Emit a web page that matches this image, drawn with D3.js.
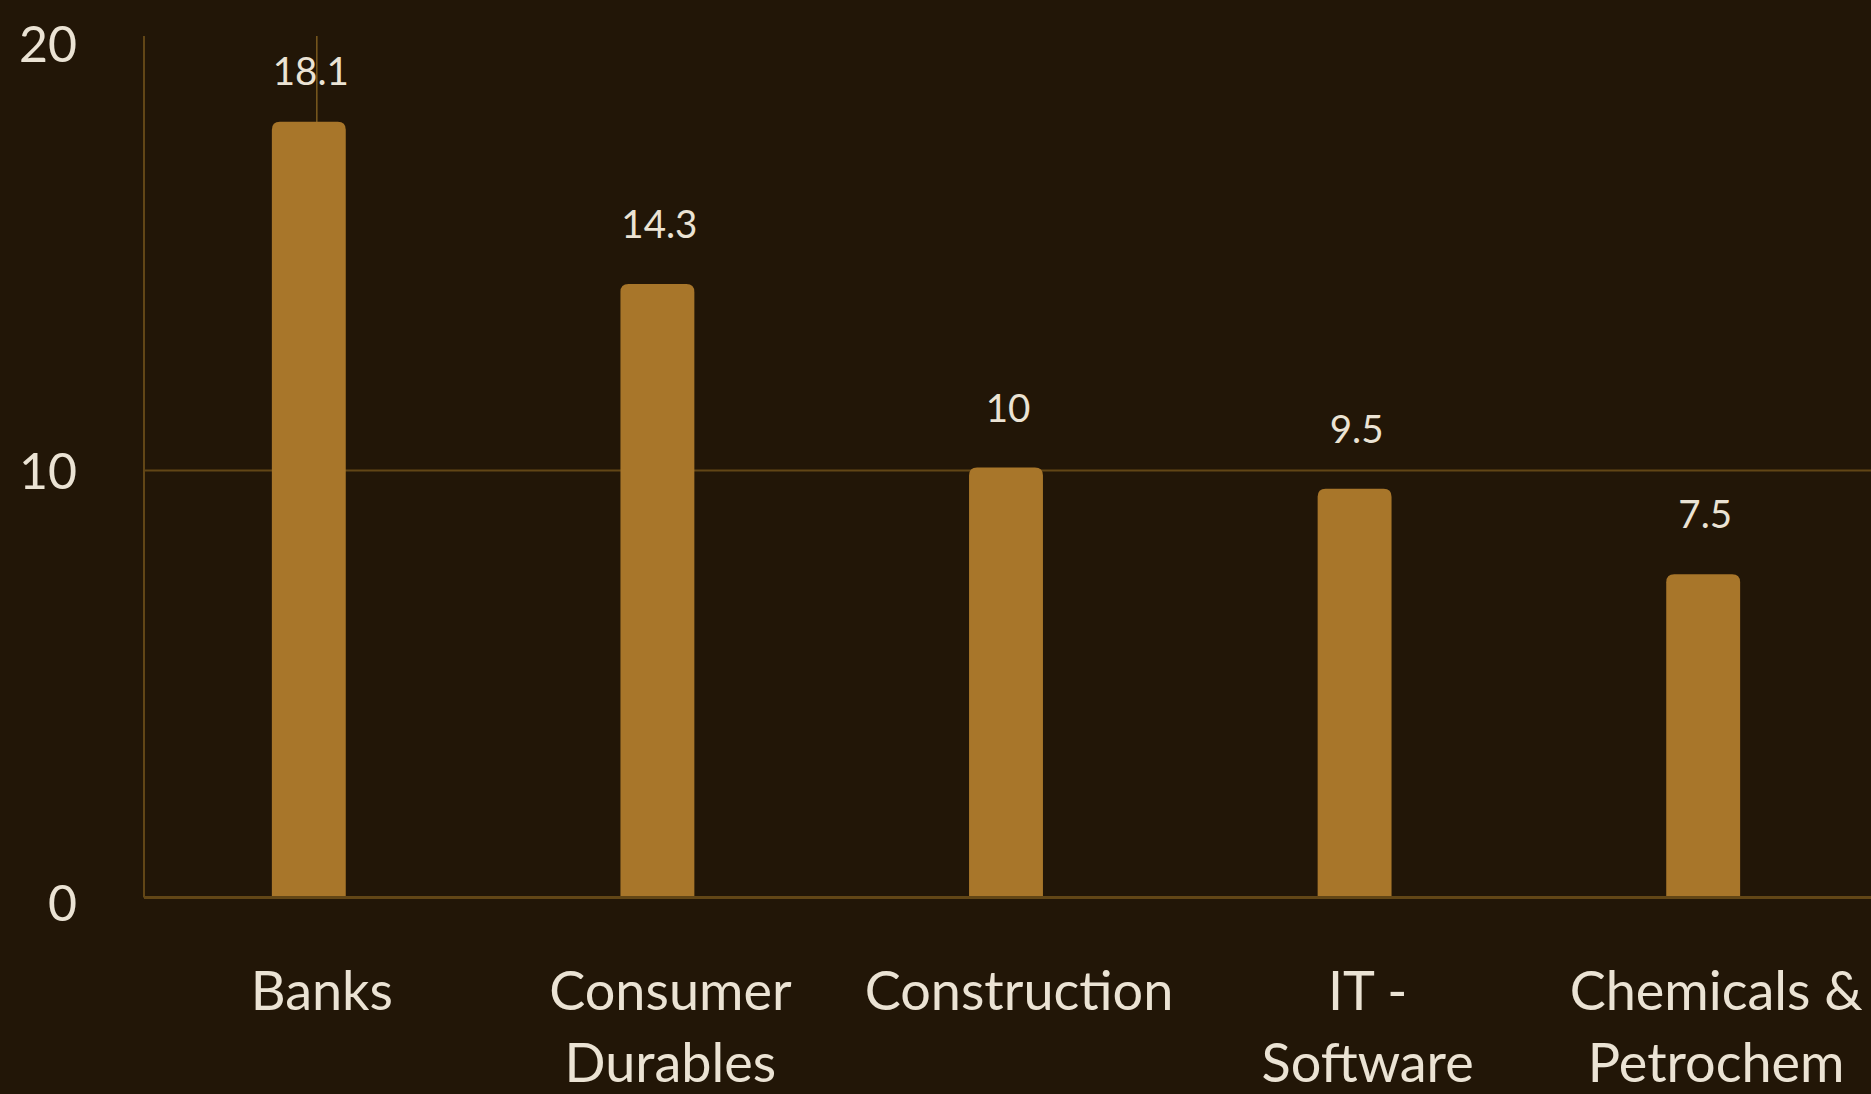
<!DOCTYPE html>
<html>
<head>
<meta charset="utf-8">
<script src="https://cdn.jsdelivr.net/npm/d3@7"></script>
<style>
  html, body { margin: 0; padding: 0; background: #221607; overflow: hidden; }
  svg { display: block; }
  text { font-family: Lato, "Noto Sans", sans-serif; fill: #ebe3d4; }
</style>
</head>
<body>
<svg id="chart" width="1871" height="1094"></svg>
<script>
const categories = [["Banks"], ["Consumer", "Durables"], ["Construction"], ["IT -", "Software"], ["Chemicals &", "Petrochem"]];
const values = [18.1, 14.3, 10, 9.5, 7.5];
const yTicks = [0, 10, 20];

(function () {
const W = 1871, H = 1094;
const svg = d3.select("#chart");
svg.append("rect").attr("width", W).attr("height", H).attr("fill", "#221607");

const axisX = 144, plotTop = 36, plotBottom = 897.5;
const keys = categories.map(c => c.join(" "));
const x = d3.scaleBand().domain(keys).range([138, 1874]).paddingInner(0.788).paddingOuter(0.384);
const y = d3.scaleLinear().domain([0, 20]).range([plotBottom, 43.5]);

const gridColor = "#624616";

// horizontal gridlines
svg.append("g").selectAll("line").data(yTicks.filter(t => t > 0 && t < 20)).join("line")
  .attr("x1", axisX).attr("x2", W).attr("y1", d => y(d)).attr("y2", d => y(d))
  .attr("stroke", gridColor).attr("stroke-width", 2);

// y axis line
svg.append("line").attr("x1", axisX).attr("x2", axisX).attr("y1", plotTop).attr("y2", plotBottom)
  .attr("stroke", gridColor).attr("stroke-width", 2);

// vertical line at first category
const vx = x(keys[0]) + x.bandwidth() / 2 + 8;
svg.append("line")
  .attr("x1", vx).attr("x2", vx)
  .attr("y1", plotTop).attr("y2", plotBottom)
  .attr("stroke", "#7a5a1e").attr("stroke-width", 1.5);

// bars
const r = 8;
svg.append("g").selectAll("path").data(values).join("path")
  .attr("fill", "#a8762a")
  .attr("d", (d, i) => {
    const x0 = x(keys[i]), w = x.bandwidth(), y0 = y(d) - 3, y1 = y(0);
    return `M${x0},${y1} L${x0},${y0 + r} Q${x0},${y0} ${x0 + r},${y0} L${x0 + w - r},${y0} Q${x0 + w},${y0} ${x0 + w},${y0 + r} L${x0 + w},${y1} Z`;
  });

// baseline
svg.append("line").attr("x1", axisX).attr("x2", W).attr("y1", y(0)).attr("y2", y(0))
  .attr("stroke", gridColor).attr("stroke-width", 3);

// value labels (kept inside the plot area at the top)
svg.append("g").selectAll("text").data(values).join("text")
  .attr("x", (d, i) => x(keys[i]) + x.bandwidth() / 2 + 2)
  .attr("y", d => Math.max(y(d) - 49, 85))
  .attr("text-anchor", "middle")
  .attr("font-size", 38.5)
  .text(d => d);

// y tick labels
svg.append("g").selectAll("text").data(yTicks).join("text")
  .attr("x", 77)
  .attr("y", d => y(d) + (d === 0 ? 4 : -1))
  .attr("text-anchor", "end")
  .attr("dominant-baseline", "central")
  .attr("font-size", 50)
  .text(d => d);

// x labels
const xl = svg.append("g").selectAll("text").data(categories).join("text")
  .attr("x", (d, i) => x(keys[i]) + x.bandwidth() / 2 + 13)
  .attr("y", 1010)
  .attr("text-anchor", "middle")
  .attr("font-size", 54);
xl.selectAll("tspan").data(d => d).join("tspan")
  .attr("x", function () { return d3.select(this.parentNode).attr("x"); })
  .attr("dy", (d, j) => j === 0 ? 0 : 71.5)
  .text(d => d);
})();
</script>
</body>
</html>
